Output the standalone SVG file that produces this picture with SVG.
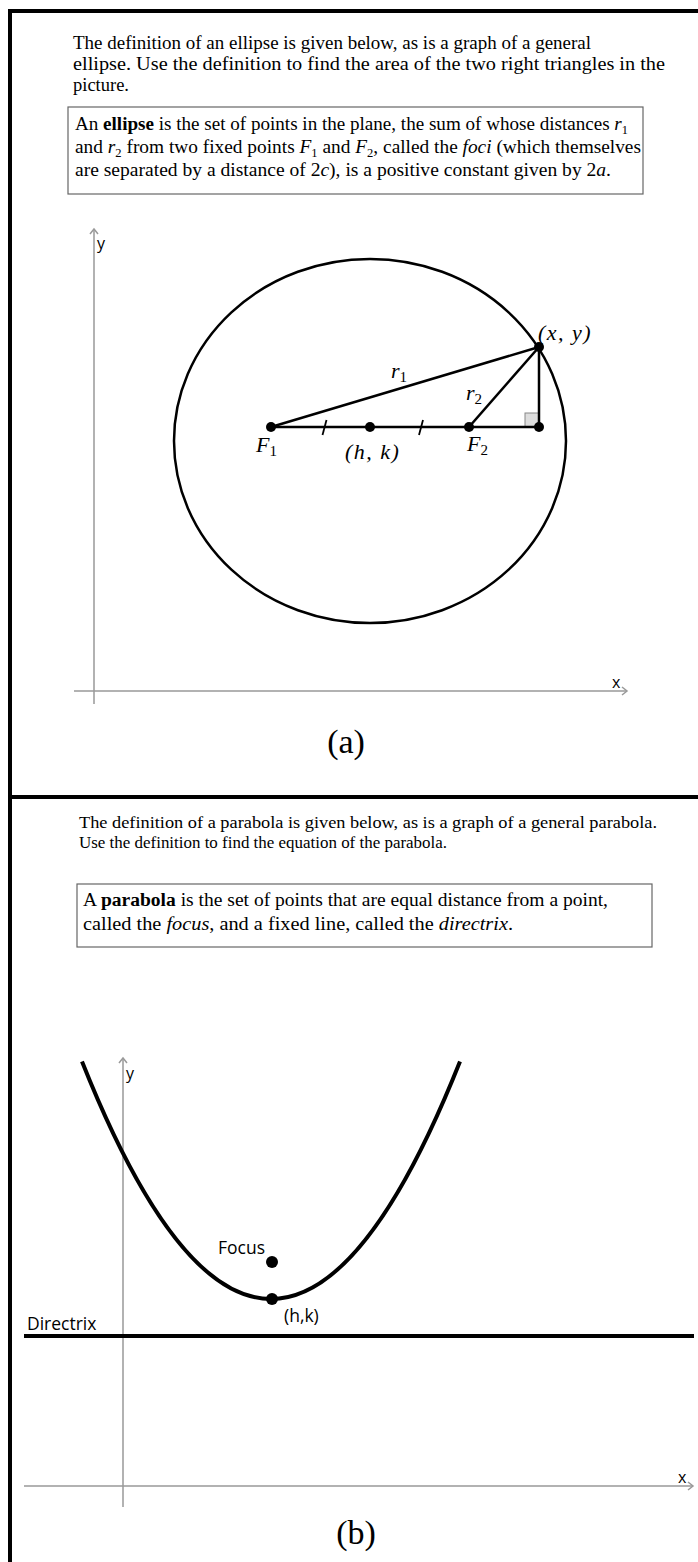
<svg xmlns="http://www.w3.org/2000/svg" width="698" height="1562" viewBox="0 0 698 1562">
<style>
.serif{font-family:"Liberation Serif","Times New Roman",serif;fill:#000}
.sans{font-family:"Open Sans","DejaVu Sans",sans-serif;fill:#000}
.math{font-family:"Liberation Serif","Times New Roman",serif;font-style:italic;fill:#000}
.axis{stroke:#999;stroke-width:1.5;fill:none}
.curve{stroke:#000;fill:none}
.box{fill:#fff;stroke:#666;stroke-width:1.2}
.frame{stroke:#000;stroke-width:4;fill:none}
</style>
<rect width="698" height="1562" fill="#fff"/>
<g id="frame">
<line class="frame" x1="8" y1="11" x2="698" y2="11"/>
<line class="frame" x1="10" y1="9" x2="10" y2="1562"/>
<line class="frame" x1="10" y1="797" x2="698" y2="797"/>
</g>
<g id="ellipse-intro" class="serif" font-size="18.5">
<text x="73" y="49" textLength="518" lengthAdjust="spacingAndGlyphs">The definition of an ellipse is given below, as is a graph of a general</text>
<text x="73" y="70" textLength="592" lengthAdjust="spacingAndGlyphs">ellipse. Use the definition to find the area of the two right triangles in the</text>
<text x="73" y="91">picture.</text>
</g>
<g id="ellipse-definition">
<rect class="box" x="68" y="107" width="575" height="87"/>
<text class="serif" font-size="18.5" x="75" y="130" textLength="553" lengthAdjust="spacingAndGlyphs">An <tspan font-weight="bold">ellipse</tspan> is the set of points in the plane, the sum of whose distances <tspan font-style="italic">r</tspan><tspan font-size="12" dy="4">1</tspan></text>
<text class="serif" font-size="18.5" x="75" y="153" textLength="566" lengthAdjust="spacingAndGlyphs">and <tspan font-style="italic">r</tspan><tspan font-size="12" dy="4">2</tspan><tspan dy="-4"> from two fixed points </tspan><tspan font-style="italic">F</tspan><tspan font-size="12" dy="4">1</tspan><tspan dy="-4"> and </tspan><tspan font-style="italic">F</tspan><tspan font-size="12" dy="4">2</tspan><tspan dy="-4">, called the </tspan><tspan font-style="italic">foci</tspan> (which themselves</text>
<text class="serif" font-size="18.5" x="75" y="176" textLength="536" lengthAdjust="spacingAndGlyphs">are separated by a distance of 2<tspan font-style="italic">c</tspan>), is a positive constant given by 2<tspan font-style="italic">a</tspan>.</text>
</g>
<g id="axes-a">
<line class="axis" x1="94" y1="229" x2="94" y2="704"/>
<polyline class="axis" points="90,234 94,229 98,234"/>
<line class="axis" x1="74" y1="691" x2="627" y2="691"/>
<polyline class="axis" points="622,687 627,691 622,695"/>
<text class="sans" font-size="16" x="97" y="249">y</text>
<text class="sans" font-size="16" x="612" y="688">x</text>
</g>
<g id="ellipse">
<ellipse class="curve" stroke-width="2.5" cx="370" cy="441" rx="196" ry="182"/>
</g>
<g id="triangles" class="curve" stroke-width="2.5">
<rect x="525" y="413" width="14" height="14" fill="#ddd" stroke="#888" stroke-width="1"/>
<line x1="271" y1="427" x2="539" y2="427"/>
<line x1="271" y1="427" x2="539" y2="347"/>
<line x1="469" y1="427" x2="539" y2="347"/>
<line x1="539" y1="347" x2="539" y2="427"/>
<line x1="322.5" y1="435" x2="326.5" y2="420" stroke-width="1.8"/>
<line x1="419" y1="435" x2="423" y2="420" stroke-width="1.8"/>
</g>
<g id="points-a" fill="#000">
<circle cx="271" cy="427" r="5"/>
<circle cx="370" cy="427" r="5"/>
<circle cx="469" cy="427" r="5"/>
<circle cx="539" cy="427" r="5"/>
<circle cx="539" cy="347" r="5"/>
</g>
<g id="labels-a" font-size="22">
<text class="math" x="538" y="340" letter-spacing="1.5">(x, y)</text>
<text class="math" x="391" y="378">r<tspan font-style="normal" font-size="15" dy="4">1</tspan></text>
<text class="math" x="466" y="400">r<tspan font-style="normal" font-size="15" dy="4">2</tspan></text>
<text class="math" x="256" y="452">F<tspan font-style="normal" font-size="15" dy="4">1</tspan></text>
<text class="math" x="345" y="459" letter-spacing="1.5">(h, k)</text>
<text class="math" x="467" y="451">F<tspan font-style="normal" font-size="15" dy="4">2</tspan></text>
</g>
<text class="serif" font-size="34" x="346" y="753" text-anchor="middle">(a)</text>
<g id="parabola-intro" class="serif" font-size="16.5">
<text x="79" y="828" textLength="578" lengthAdjust="spacingAndGlyphs">The definition of a parabola is given below, as is a graph of a general parabola.</text>
<text x="79" y="848" textLength="368" lengthAdjust="spacingAndGlyphs">Use the definition to find the equation of the parabola.</text>
</g>
<g id="parabola-definition">
<rect class="box" x="77" y="884" width="575" height="63"/>
<text class="serif" font-size="18" x="83" y="906" textLength="525" lengthAdjust="spacingAndGlyphs">A <tspan font-weight="bold">parabola</tspan> is the set of points that are equal distance from a point,</text>
<text class="serif" font-size="18" x="83" y="930" textLength="430" lengthAdjust="spacingAndGlyphs">called the <tspan font-style="italic">focus</tspan>, and a fixed line, called the <tspan font-style="italic">directrix</tspan>.</text>
</g>
<g id="axes-b">
<line class="axis" x1="123" y1="1058" x2="123" y2="1507"/>
<polyline class="axis" points="119,1063 123,1058 127,1063"/>
<line class="axis" x1="24" y1="1486" x2="693" y2="1486"/>
<polyline class="axis" points="688,1482 693,1486 688,1490"/>
<text class="sans" font-size="16" x="126" y="1079">y</text>
<text class="sans" font-size="16" x="678" y="1483">x</text>
</g>
<g id="parabola">
<path class="curve" stroke-width="4" d="M82,1061.5 Q271,1536.5 460,1061.5"/>
</g>
<g id="directrix">
<line class="curve" stroke-width="4" x1="24" y1="1336" x2="694" y2="1336"/>
<text class="sans" font-size="17.5" x="27" y="1330">Directrix</text>
</g>
<g id="focus">
<circle cx="272" cy="1262" r="6"/>
<text class="sans" font-size="17.5" x="218" y="1254">Focus</text>
</g>
<g id="vertex">
<circle cx="272" cy="1299" r="6"/>
<text class="sans" font-size="17.5" x="284" y="1322">(h,k)</text>
</g>
<text class="serif" font-size="34" x="356" y="1544" text-anchor="middle">(b)</text>
</svg>
